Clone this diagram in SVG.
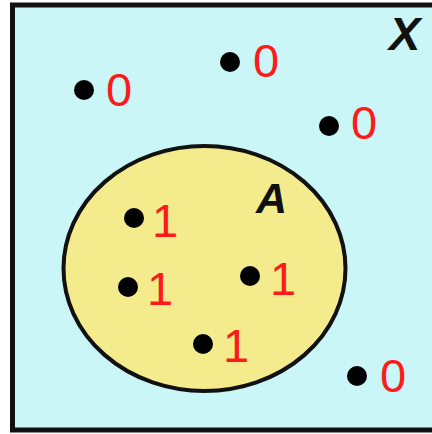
<svg xmlns="http://www.w3.org/2000/svg" width="432" height="434" viewBox="0 0 432 434">
<style>
.dot{fill:#000}
.val{font-family:"Liberation Sans",Arial,sans-serif;font-size:47px;fill:#ff1a1a}
.lbl{font-family:"Liberation Sans",Arial,sans-serif;font-weight:bold;font-style:italic;fill:#111}
</style>
<rect width="432" height="434" fill="#ffffff"/>
<g id="X">
<rect x="12.5" y="5" width="440" height="425" fill="#cbf6f8" stroke="#111" stroke-width="5"/>
<text class="lbl" x="389" y="50" font-size="47">X</text>
</g>
<g id="A">
<ellipse cx="204.5" cy="268.5" rx="141" ry="122.5" fill="#f4ec8c" stroke="#111" stroke-width="4"/>
<text class="lbl" x="256" y="213" font-size="43">A</text>
</g>
<g id="connectors"/>
<g id="p1"><circle class="dot" cx="84" cy="90" r="10"/><text class="val" x="106" y="106">0</text></g>
<g id="p2"><circle class="dot" cx="230" cy="62" r="10"/><text class="val" x="253" y="77">0</text></g>
<g id="p3"><circle class="dot" cx="329" cy="126" r="10"/><text class="val" x="351" y="139">0</text></g>
<g id="p4"><circle class="dot" cx="357" cy="376" r="10"/><text class="val" x="380" y="392">0</text></g>
<g id="a1"><circle class="dot" cx="134" cy="218" r="10"/><text class="val" x="152" y="237">1</text></g>
<g id="a2"><circle class="dot" cx="128" cy="287" r="10"/><text class="val" x="147" y="305">1</text></g>
<g id="a3"><circle class="dot" cx="250" cy="276" r="10"/><text class="val" x="270" y="295">1</text></g>
<g id="a4"><circle class="dot" cx="203" cy="344" r="10"/><text class="val" x="223" y="362">1</text></g>
</svg>
